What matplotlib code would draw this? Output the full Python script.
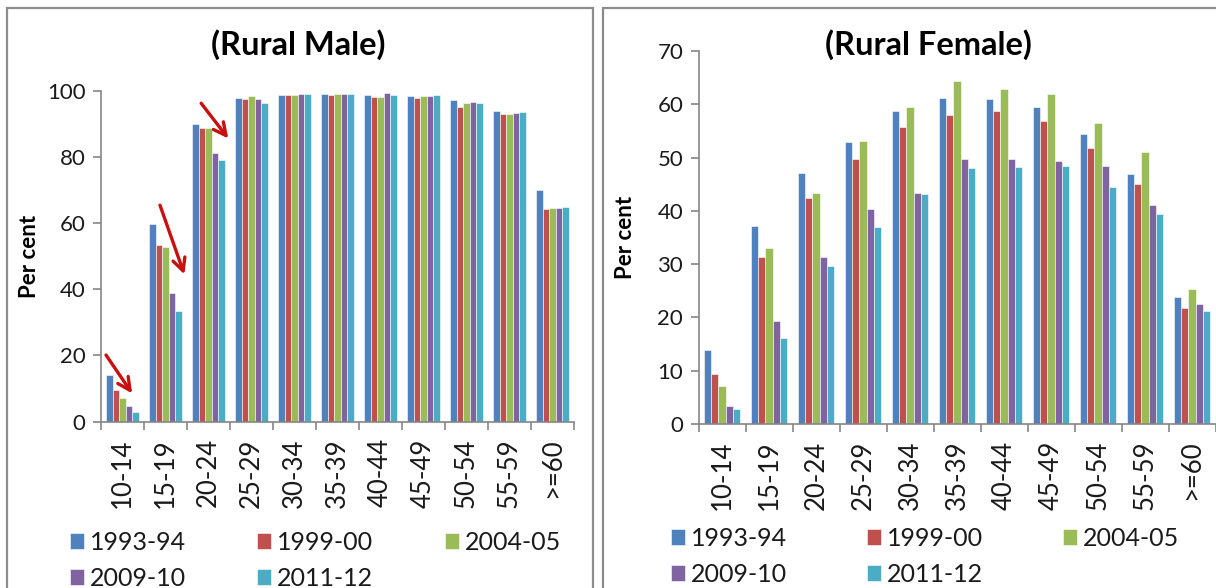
import matplotlib
matplotlib.use("Agg")
import matplotlib.pyplot as plt
from matplotlib.patches import Rectangle, Patch
import numpy as np

plt.rcParams['font.family'] = ['Lato', 'DejaVu Sans']

categories = ["10-14", "15-19", "20-24", "25-29", "30-34", "35-39",
              "40-44", "45-49", "50-54", "55-59", ">=60"]
series_names = ["1993-94", "1999-00", "2004-05", "2009-10", "2011-12"]
colors = ["#4F81BD", "#C0504D", "#9BBB59", "#8064A2", "#4BACC6"]

male_1993 = [14.1, 59.8, 90.1, 97.9, 98.6, 98.9, 98.6, 98.3, 97.1, 94.0, 69.9]
male_1999 = [9.4, 53.3, 88.9, 97.4, 98.6, 98.6, 98.2, 97.9, 95.2, 92.9, 64.2]
male_2004 = [7.1, 52.8, 88.9, 98.3, 98.6, 98.9, 98.2, 98.3, 96.3, 92.9, 64.6]
male_2009 = [4.7, 38.8, 81.2, 97.5, 98.9, 98.9, 99.4, 98.3, 96.7, 93.2, 64.6]
male_2011 = [2.9, 33.4, 79.0, 96.3, 98.9, 98.9, 98.6, 98.6, 96.3, 93.6, 64.9]

female_1993 = [13.9, 37.2, 47.1, 52.9, 58.7, 61.1, 60.9, 59.4, 54.4, 46.9, 23.9]
female_1999 = [9.4, 31.4, 42.5, 49.8, 55.8, 58.0, 58.7, 56.8, 51.8, 45.0, 21.8]
female_2004 = [7.2, 33.1, 43.4, 53.2, 59.4, 64.3, 62.8, 61.9, 56.4, 51.0, 25.4]
female_2009 = [3.3, 19.3, 31.4, 40.3, 43.4, 49.8, 49.8, 49.3, 48.5, 41.1, 22.5]
female_2011 = [2.9, 16.1, 29.7, 37.0, 43.2, 48.1, 48.3, 48.5, 44.5, 39.4, 21.2]

male = [male_1993, male_1999, male_2004, male_2009, male_2011]
female = [female_1993, female_1999, female_2004, female_2009, female_2011]

# red annotation arrows on the male panel: (tail x, tail y, head x, head y) in data units
male_arrows = [(-0.42, 20.8, 0.26, 7.8),
               (0.85, 66.2, 1.46, 43.7),
               (1.79, 96.9, 2.50, 84.9)]

W, H = 1216, 588
fig = plt.figure(figsize=(W / 100, H / 100), dpi=100)

border_col = "#8c8c8c"
fig.patches.append(Rectangle((7 / W, -0.05), (593 - 7) / W, 1.05 - 8 / H,
                             transform=fig.transFigure, fill=False,
                             edgecolor=border_col, lw=1.6))
fig.patches.append(Rectangle((603 / W, -0.05), 0.6, 1.05 - 8 / H,
                             transform=fig.transFigure, fill=False,
                             edgecolor=border_col, lw=1.6))

text_col = "#1a1a1a"
axis_col = "#868686"


def make_panel(rect, data, ymax, ystep, title, title_xy, ylabel_x, legend_anchor, colsp):
    ax = fig.add_axes(rect)
    n = len(categories)
    x = np.arange(n)
    bw = 0.153
    for j, (vals, c) in enumerate(zip(data, colors)):
        ax.bar(x + (j - 2) * bw, vals, width=bw, color=c,
               edgecolor="white", linewidth=0.4, label=series_names[j])
    ax.set_xlim(-0.5, n - 0.5)
    ax.set_ylim(0, ymax)
    ax.set_yticks(np.arange(0, ymax + 1, ystep))
    ax.set_xticks(x)
    ax.set_xticklabels(categories, rotation=90, fontsize=18.5, color=text_col)
    ax.set_xticks(np.arange(-0.5, n, 1.0), minor=True)
    ax.tick_params(axis='x', which='major', length=0, pad=12)
    ax.tick_params(axis='x', which='minor', length=6, width=1.2, color=axis_col, direction='out')
    ax.tick_params(axis='y', length=6, width=1.2, color=axis_col, labelsize=16,
                   labelcolor=text_col, pad=5)
    for s in ["top", "right"]:
        ax.spines[s].set_visible(False)
    for s in ["left", "bottom"]:
        ax.spines[s].set_color(axis_col)
        ax.spines[s].set_linewidth(1.2)
    fig.text(title_xy[0] / W, 1 - title_xy[1] / H, title, ha='center', va='center',
             fontsize=23.5, fontweight='bold', color="#000000")
    ax.set_ylabel("Per cent", fontsize=16, fontweight='bold', color="#000000")
    ax.yaxis.set_label_coords((ylabel_x - rect[0] * W) / (rect[2] * W), 0.5)
    order = [0, 3, 1, 4, 2]
    hh = [Patch(facecolor=colors[k], edgecolor='white', lw=0.4) for k in order]
    ll = [series_names[k] for k in order]
    fig.legend(hh, ll, loc='upper left', bbox_to_anchor=legend_anchor,
               bbox_transform=fig.transFigure, ncol=3, frameon=False,
               fontsize=18, handlelength=0.55, handleheight=0.6, handletextpad=0.25,
               columnspacing=colsp, labelspacing=0.5, borderaxespad=0,
               borderpad=0, labelcolor=text_col)
    return ax


# male panel
axm = make_panel([101 / W, 1 - 421.5 / H, (574 - 101) / W, (421.5 - 90.8) / H],
                 male, 100, 20, "(Rural Male)", (298, 45), 40,
                 (70 / W, 1 - 531 / H), 2.85)
for (x0, y0, x1, y1) in male_arrows:
    axm.annotate("", xy=(x1, y1), xytext=(x0, y0),
                 arrowprops=dict(arrowstyle="->,head_length=0.9,head_width=0.45",
                                 color="#c81010", lw=2.4))

# female panel
axf = make_panel([698.5 / W, 1 - 424 / H, (1215.5 - 698.5) / W, (424 - 51) / H],
                 female, 70, 10, "(Rural Female)", (928, 45), 636,
                 (671 / W, 1 - 527 / H), 3.2)

fig.savefig("out.png", dpi=100)
